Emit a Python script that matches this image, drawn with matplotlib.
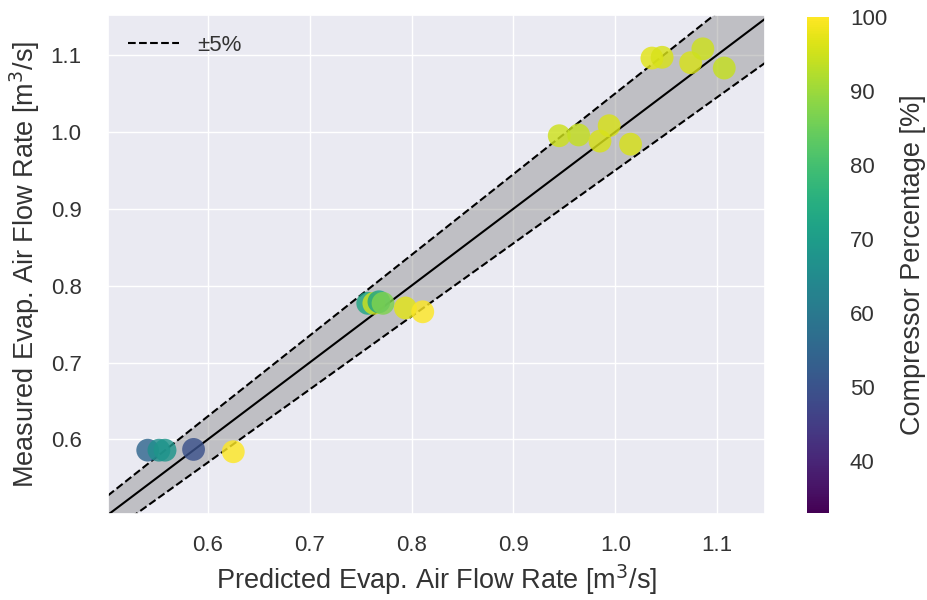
import matplotlib
matplotlib.use("Agg")
import matplotlib.pyplot as plt
import matplotlib.cm as cm
import matplotlib.colors as mcolors
import seaborn as sns
import numpy as np

sns.set_theme(style="darkgrid")
plt.rcParams['font.family'] = ['Liberation Sans', 'DejaVu Sans']

predicted = [0.541, 0.552, 0.558, 0.586, 0.625,
             0.757, 0.763, 0.768, 0.772, 0.794, 0.811,
             0.945, 0.964, 0.985, 0.994, 1.015,
             1.036, 1.046, 1.074, 1.086, 1.107]
measured = [0.586, 0.586, 0.586, 0.587, 0.584,
            0.777, 0.777, 0.779, 0.777, 0.771, 0.766,
            0.995, 0.996, 0.988, 1.008, 0.984,
            1.096, 1.097, 1.090, 1.108, 1.083]
compressor = [55, 66, 68, 50, 100,
              73, 95, 72, 87, 97, 100,
              95, 94, 96, 96, 96,
              97, 96, 96, 95, 94]

fig = plt.figure(figsize=(9.27, 6.0), dpi=100)
ax = fig.add_axes([108/927, 1-514/600, (765-108)/927, (514-15)/600])
cax = fig.add_axes([807/927, 1-513/600, 22/927, (513-17)/600])

xlim = (0.502, 1.147)
ylim = (0.503, 1.152)
xx = np.linspace(0.4, 1.3, 200)
ax.fill_between(xx, 0.95*xx, 1.05*xx, color='gray', alpha=0.4, linewidth=0, zorder=1)
ax.plot(xx, xx, color='black', lw=1.5, zorder=2)
ax.plot(xx, 1.05*xx, color='black', lw=1.5, ls='--', zorder=2, label='±5%')
ax.plot(xx, 0.95*xx, color='black', lw=1.5, ls='--', zorder=2)

norm = mcolors.Normalize(vmin=33, vmax=100)
sc = ax.scatter(predicted, measured, c=compressor, cmap='viridis', norm=norm,
                s=270, alpha=0.82, edgecolors='none', zorder=3)
ax.set_xlim(*xlim)
ax.set_ylim(*ylim)
ax.set_xticks([0.6, 0.7, 0.8, 0.9, 1.0, 1.1])
ax.set_yticks([0.6, 0.7, 0.8, 0.9, 1.0, 1.1])
ax.tick_params(axis='x', labelsize=16, labelcolor='#333333', pad=9)
ax.tick_params(axis='y', labelsize=16, labelcolor='#333333', pad=13)
ax.set_xlabel('Predicted Evap. Air Flow Rate [m$^3$/s]', fontsize=19.5, color='#333333',
              labelpad=5)
ax.set_ylabel('Measured Evap. Air Flow Rate [m$^3$/s]', fontsize=19.5, color='#333333',
              labelpad=6)
leg = ax.legend(loc='upper left', frameon=False, fontsize=16, handlelength=2.3)
for t in leg.get_texts():
    t.set_color('#333333')

sm = cm.ScalarMappable(norm=norm, cmap='viridis')
cb = fig.colorbar(sm, cax=cax)
cb.outline.set_visible(False)
cb.set_ticks([40, 50, 60, 70, 80, 90, 100])
cb.ax.tick_params(labelsize=16, length=0, labelcolor='#333333', pad=15)
cb.set_label('Compressor Percentage [%]', fontsize=19.5, color='#333333', labelpad=9)

fig.savefig('out.png', dpi=100)
